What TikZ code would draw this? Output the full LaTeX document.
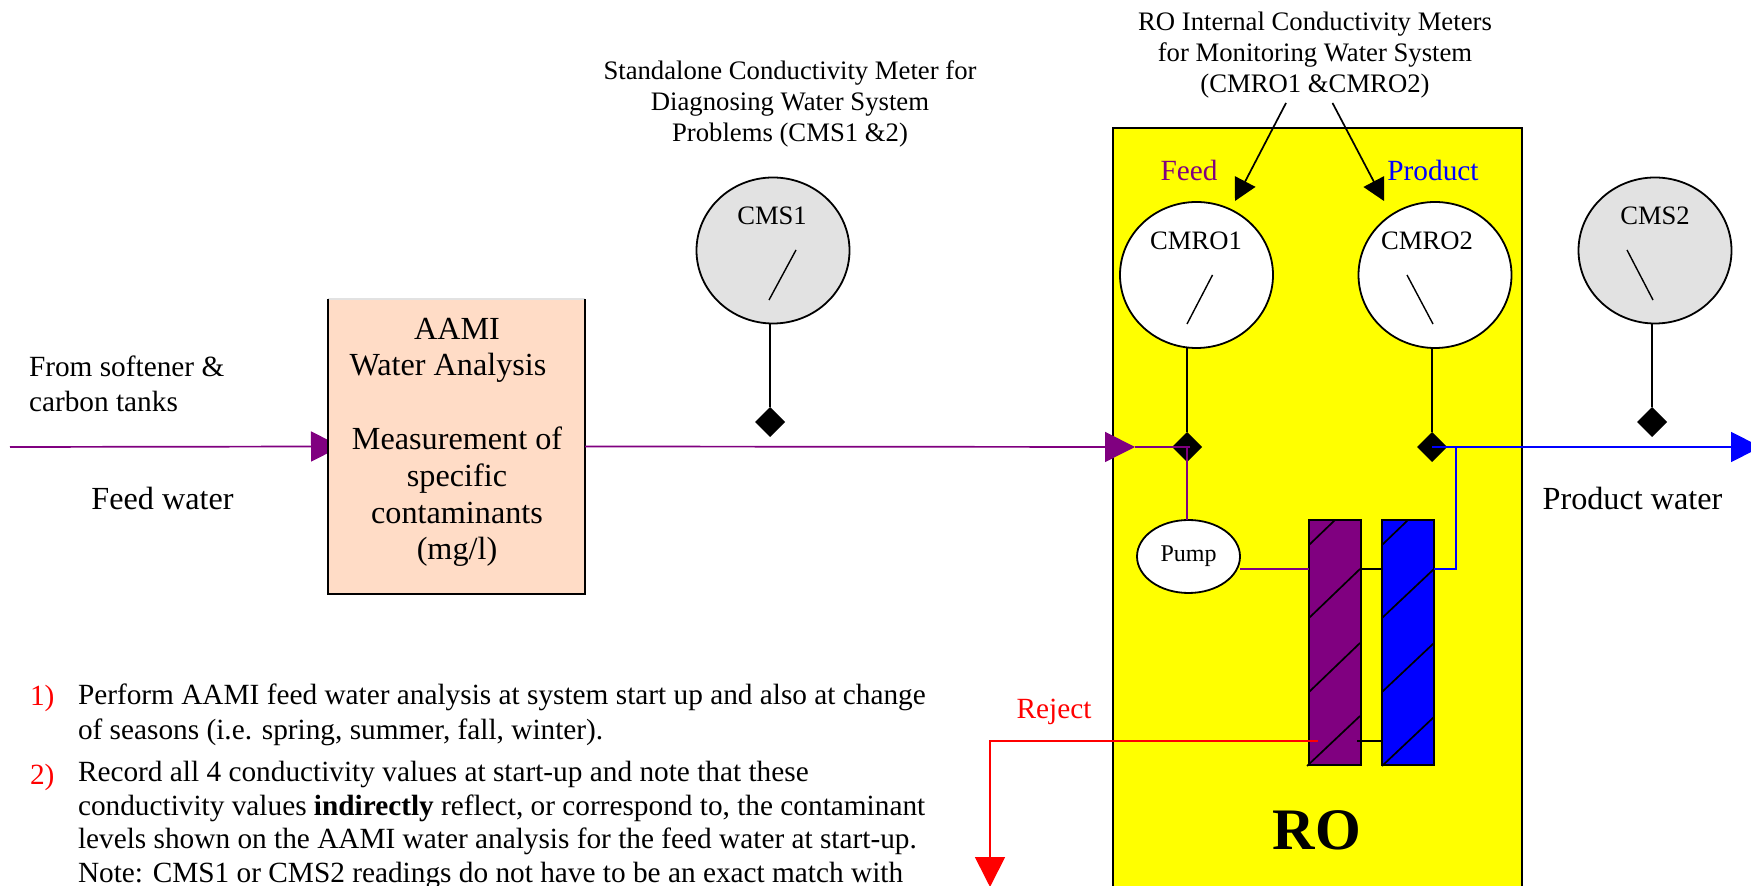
\documentclass[tikz,border=0pt]{standalone}
\usepackage{fontspec}
\setmainfont{Liberation Serif}
\usetikzlibrary{arrows.meta,shapes.geometric,backgrounds}
\definecolor{cpurple}{HTML}{800080}
\definecolor{cblue}{HTML}{0000FF}
\definecolor{cred}{HTML}{FF0000}
\definecolor{cyellow}{HTML}{FFFF00}
\definecolor{cpeach}{HTML}{FFDCC6}
\definecolor{cgray}{HTML}{E2E2E2}
\tikzset{
  every node/.style={inner sep=0pt,outer sep=0pt},
  wire/.style={line width=0.85pt},
  bigtip/.style={-{Triangle[length=15pt,width=15pt]}},
  smalltip/.style={-{Triangle[length=11pt,width=11.5pt]}},
  meter/.style={draw=black,line width=0.9pt,ellipse,minimum width=76.5pt,minimum height=73pt,anchor=center},
  graymeter/.style={meter,fill=cgray},
  whitemeter/.style={meter,fill=white},
  needle/.style={line width=0.7pt},
  tap/.style={diamond,fill=black,minimum width=15pt,minimum height=15pt,anchor=center},
  membrane/.style={draw=black,line width=0.9pt,minimum width=26pt,minimum height=122.5pt,anchor=north west},
  hatch/.style={line width=0.85pt},
  lab/.style={font=\fontsize{13.35}{15.5}\selectfont,align=center,anchor=base},
  gauge/.style={font=\fontsize{13.3}{15.5}\selectfont,anchor=base},
  big/.style={font=\fontsize{16.1}{18.4}\selectfont,anchor=base,align=center},
  mid/.style={font=\fontsize{14.65}{17.5}\selectfont,anchor=base,align=left},
}
\begin{document}
\begin{tikzpicture}[x=0.5pt,y=-0.5pt]
\useasboundingbox (0,0) rectangle (1751,886);
\clip (0,0) rectangle (1751,886);
% RO cabinet
\fill[cyellow,draw=black,line width=0.9pt] (1113,128) rectangle (1522,900);
% AAMI box
\node[fill=cpeach,minimum width=128.5pt,minimum height=147.5pt,anchor=north west] (box) at (328,299) {};
\draw[cgray,line width=0.8pt] (box.north west) -- (box.north east);
\draw[line width=0.8pt] (box.north west) -- (box.south west) -- (box.south east) -- (box.north east);
\node[big] (boxtext) at (457,560) {AAMI\\Water Analysis\hspace{9pt}\mbox{}\\ \\Measurement of\\specific\\contaminants\\(mg/l)};
% coordinates
\coordinate (feedstart) at (10,447);
\coordinate (tipro) at (1135,447);
\coordinate (prodend) at (1761,447);
\coordinate (rejcorner) at (990,741);
\coordinate (rejend) at (990,887);
\coordinate (rejstart) at (1318,741);
\coordinate (bluecorner) at (1456,569);
\coordinate (bluetee) at (1456,447);
\coordinate (a1s) at (1286,103);
\coordinate (a1e) at (1235,201);
\coordinate (a2s) at (1332.5,103);
\coordinate (a2e) at (1384,201);
% taps
\node[tap] (dcms1) at (770,422) {};
\node[tap] (dmro1) at (1187,447) {};
\node[tap] (dmro2) at (1432,447) {};
\node[tap] (dcms2) at (1652,422) {};
% meters
\node[graymeter] (cms1) at (773,250.5) {};
\node[whitemeter] (cmro1) at (1196.5,275) {};
\node[whitemeter] (cmro2) at (1435,275) {};
\node[graymeter] (cms2) at (1655,250.5) {};
\draw[wire] (dcms1) -- (dcms1 |- cms1.south);
\draw[wire] (dmro1) -- (dmro1 |- cmro1.south);
\draw[wire] (dmro2) -- (dmro2 |- cmro2.south);
\draw[wire] (dcms2) -- (dcms2 |- cms2.south);
\draw[needle] (796,250) -- (769,300);
\draw[needle] (1212.5,275) -- (1187,324);
\draw[needle] (1407,275) -- (1433,324);
\draw[needle] (1627,250) -- (1653,300);
\node[gauge] (lcms1) at (772,225) {CMS1};
\node[gauge] (lcmro1) at (1196,250) {CMRO1};
\node[gauge] (lcmro2) at (1427,250) {CMRO2};
\node[gauge] (lcms2) at (1655,225) {CMS2};
% pump and membranes
\node[draw=black,fill=white,line width=0.9pt,ellipse,minimum width=51.5pt,minimum height=36.5pt,anchor=center] (pump) at (1188.5,556.5) {};
\node[font=\fontsize{12}{14}\selectfont,anchor=base] (lpump) at (1188.5,562) {Pump};
\node[membrane,fill=cpurple] (mem1) at (1309,520) {};
\node[membrane,fill=cblue] (mem2) at (1382,520) {};
\draw[hatch] (1309,545) -- (1335,520);
\draw[hatch] (1309,618) -- (1360,569);
\draw[hatch] (1309,692) -- (1360,643);
\draw[hatch] (1307,766) -- (1360,716);
\draw[hatch] (1382,545) -- (1408,520);
\draw[hatch] (1382,618) -- (1434,569);
\draw[hatch] (1382,692) -- (1434,643);
\draw[hatch] (1382,766) -- (1434,717);
\draw[wire] (mem1.east |- 0,569) -- (mem2.west |- 0,569);
\draw[wire] (1357,741) -- (mem2.west |- 0,741);
% feed line
\begin{pgfonlayer}{background}
\draw[wire,cpurple,bigtip,shorten >=-6.5pt] (feedstart) -- (box.west);
\end{pgfonlayer}
\draw[wire,cpurple,bigtip] (box.east) -- (tipro);
\draw[wire,cpurple,shorten >=-1.5pt] (tipro) -- (dmro1.center);
\draw[wire,cpurple] (dmro1.center) -- (dmro1 |- pump.north);
\draw[wire,cpurple] (pump.east |- 0,569) -- (mem1.west |- 0,569);
% product line
\draw[wire,cblue,bigtip] (dmro2.center) -- (prodend);
\draw[wire,cblue] (bluetee) -- (bluecorner) -- (mem2.east |- bluecorner);
% reject
\draw[wire,cred,bigtip] (rejstart) -- (rejcorner) -- (rejend);
% indicator arrows
\draw[wire,smalltip] (a1s) -- (a1e);
\draw[wire,smalltip] (a2s) -- (a2e);
% labels
\node[lab] (lro) at (1315,93) {RO Internal Conductivity Meters\\for Monitoring Water System\\(CMRO1 \&CMRO2)};
\node[lab] (lcs) at (790,142) {Standalone Conductivity Meter for\\Diagnosing Water System\\Problems (CMS1 \&2)};
\node[mid,text=cpurple] (lfeed) at (1189,181) {Feed};
\node[mid,text=cblue] (lprod) at (1433,181) {Product};
\node[mid,text=cred] (lrej) at (1054,719) {Reject};
\node[font=\fontsize{14.65}{17.5}\selectfont,anchor=base west,align=left] (lfrom) at (29,412) {From softener \&\\carbon tanks};
\node[big] (lfw) at (162.5,510) {Feed water};
\node[big] (lpw) at (1632.5,510) {Product water};
\node[font=\bfseries\fontsize{29.4}{32}\selectfont,anchor=base] (lrobig) at (1317,849) {RO};
% list
\node[mid,anchor=base west,text=cred] (n1) at (30,706) {1)};
\node[font=\fontsize{14.65}{17.5}\selectfont,anchor=base west,align=left] (t1) at (78,740) {Perform AAMI feed water analysis at system start up and also at change\\of seasons (i.e. spring, summer, fall, winter).};
\node[mid,anchor=base west,text=cred] (n2) at (30,784) {2)};
\node[font=\fontsize{14.65}{16.75}\selectfont,anchor=base west,align=left] (t2) at (78,882) {Record all 4 conductivity values at start-up and note that these\\conductivity values \textbf{indirectly} reflect, or correspond to, the contaminant\\levels shown on the AAMI water analysis for the feed water at start-up.\\Note: CMS1 or CMS2 readings do not have to be an exact match with};
\end{tikzpicture}
\end{document}
